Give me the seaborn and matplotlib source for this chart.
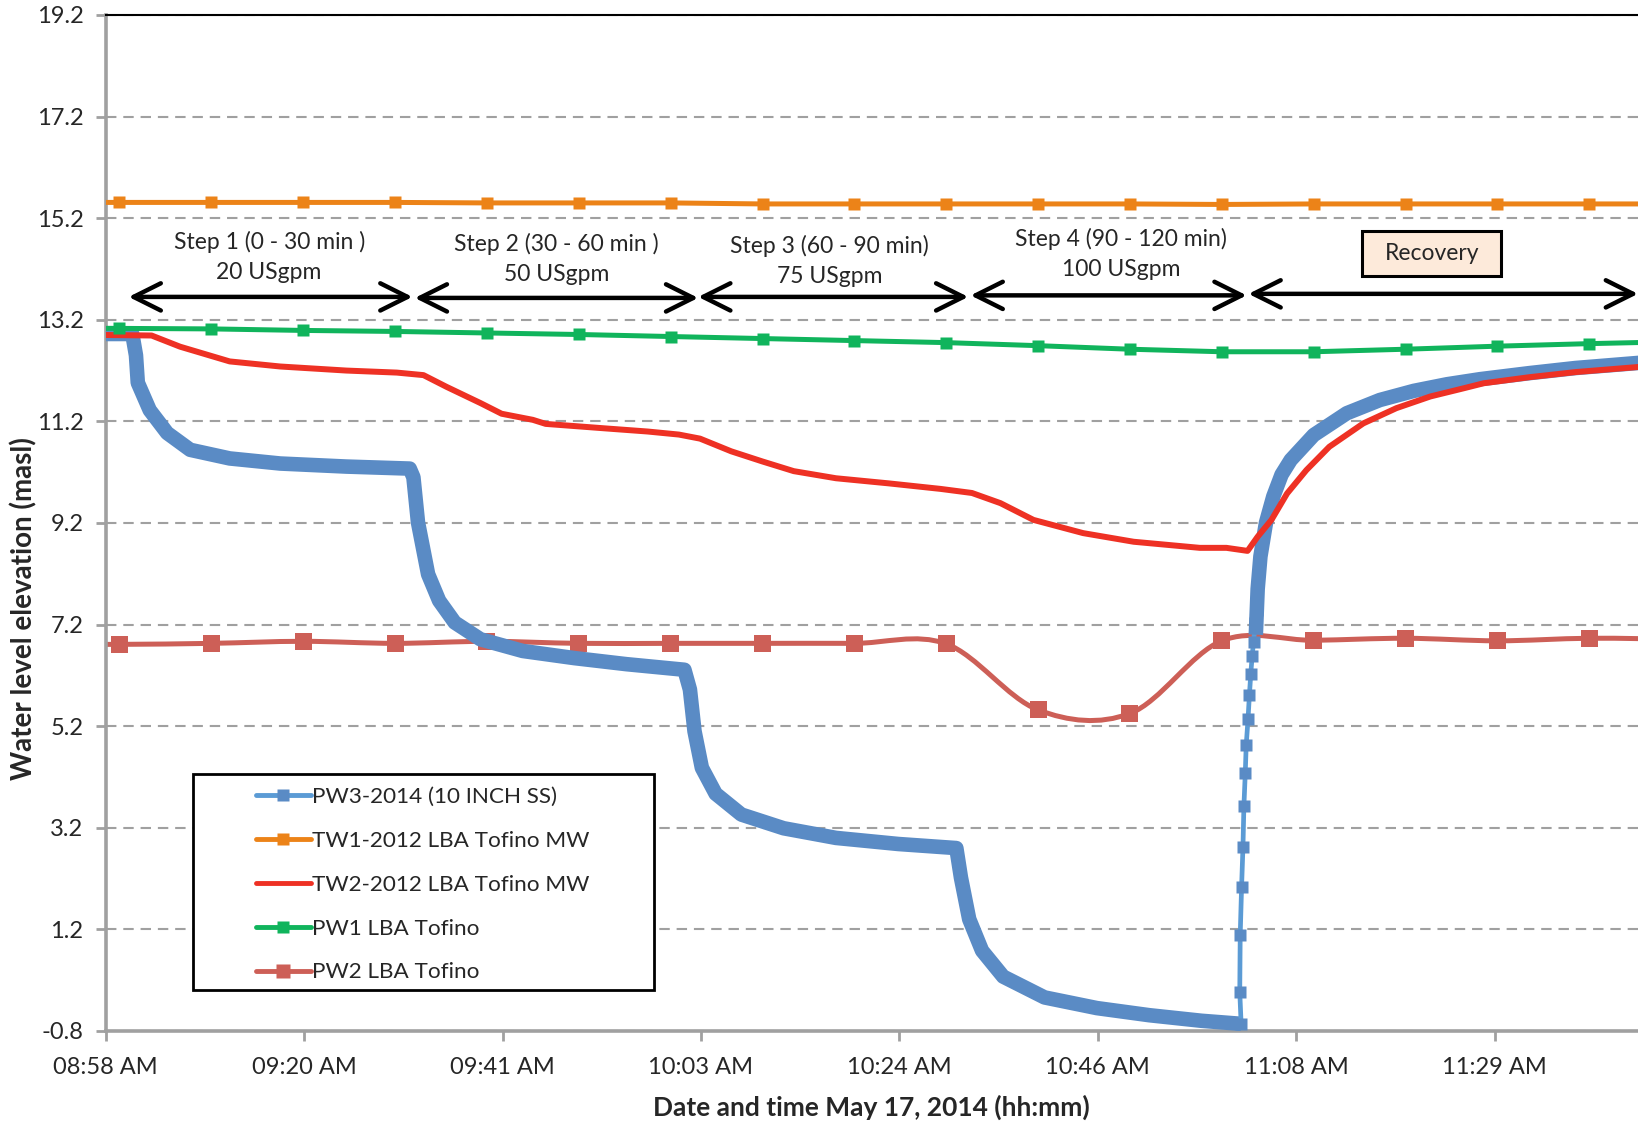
import numpy as np
import pandas as pd
import matplotlib
matplotlib.use("Agg")
import matplotlib.pyplot as plt
from matplotlib.lines import Line2D
from matplotlib.path import Path
from matplotlib.patches import PathPatch, Rectangle
import seaborn as sns

sns.set_style("white")
plt.rcParams['font.family'] = ['Lato', 'DejaVu Sans']

# x axis: minutes after 08:58
tick_minutes = [0, 21.6, 43.2, 64.8, 86.4, 108.0, 129.6, 151.2]
tick_labels = ["08:58 AM", "09:20 AM", "09:41 AM", "10:03 AM",
               "10:24 AM", "10:46 AM", "11:08 AM", "11:29 AM"]
y_ticks = [-0.8, 1.2, 3.2, 5.2, 7.2, 9.2, 11.2, 13.2, 15.2, 17.2, 19.2]

# manual readings (every 10 min)
manual_t = [-8.5, 1.5, 11.5, 21.5, 31.5, 41.5, 51.5, 61.5, 71.5, 81.5,
            91.5, 101.5, 111.5, 121.5, 131.5, 141.5, 151.5, 161.5, 171.5]
tw1_h = [15.51, 15.51, 15.51, 15.51, 15.51, 15.50, 15.50, 15.50, 15.48, 15.48,
         15.48, 15.48, 15.48, 15.47, 15.48, 15.48, 15.48, 15.48, 15.48]
pw1_h = [13.04, 13.03, 13.02, 12.99, 12.97, 12.94, 12.91, 12.87, 12.83, 12.79,
         12.75, 12.69, 12.62, 12.57, 12.57, 12.62, 12.68, 12.73, 12.77]
pw2_h = [6.81, 6.81, 6.83, 6.87, 6.83, 6.87, 6.83, 6.83, 6.83, 6.83,
         6.82, 5.52, 5.45, 6.88, 6.89, 6.93, 6.88, 6.93, 6.91]

# TW2 logger
tw2_t = [0, 5.0, 8.1, 13.5, 19.0, 26.2, 31.7, 34.6, 37.1, 40.8, 43.1, 46.5, 47.9,
         54.5, 59.0, 62.4, 64.7, 68.1, 71.5, 74.9, 79.5, 85.2, 90.9, 94.3, 97.4,
         101.0, 106.4, 111.9, 119.1, 122.0, 124.3, 125.4, 126.9, 128.6, 130.7,
         133.2, 136.9, 140.5, 144.2, 147.8, 150.0, 155.0, 160.0, 166.8, 170.0]
tw2_h = [12.90, 12.89, 12.67, 12.38, 12.28, 12.20, 12.16, 12.11, 11.88, 11.56, 11.35, 11.23, 11.15,
         11.06, 11.00, 10.94, 10.86, 10.61, 10.41, 10.22, 10.08, 9.98, 9.87, 9.79, 9.59,
         9.26, 9.00, 8.83, 8.71, 8.71, 8.65, 8.93, 9.26, 9.78, 10.24,
         10.70, 11.16, 11.46, 11.69, 11.85, 11.95, 12.07, 12.17, 12.27, 12.30]

# PW3 logger: drawdown
pw3_t = [0, 2.9, 3.3, 3.5, 4.8, 6.7, 9.2, 13.5, 19.0, 26.2, 33.1, 33.5, 34.0, 35.1,
         36.3, 38.0, 40.8, 45.4, 51.0, 56.7, 63.0, 63.6, 64.1, 64.9, 66.4, 69.2,
         73.8, 79.5, 86.3, 92.6, 93.1, 94.0, 95.4, 97.7, 102.2, 107.9, 113.6,
         119.3, 123.6]
pw3_h = [12.92, 12.92, 12.50, 11.96, 11.42, 10.97, 10.64, 10.47, 10.37, 10.31, 10.27, 10.10, 9.21, 8.19,
         7.67, 7.24, 6.91, 6.68, 6.54, 6.42, 6.31, 5.92, 5.10, 4.38, 3.87, 3.46,
         3.19, 3.00, 2.88, 2.80, 2.22, 1.40, 0.78, 0.27, -0.14, -0.35, -0.49,
         -0.60, -0.66]
# PW3 fast rise
rise_t = [123.6, 123.45, 123.5, 123.65, 123.8, 123.9, 124.05, 124.15, 124.35,
          124.5, 124.65, 124.8, 124.95, 125.15, 125.35]
rise_h = [-0.66, -0.03, 1.09, 2.04, 2.83, 3.62, 4.27, 4.82, 5.34,
          5.81, 6.23, 6.58, 6.86, 7.23, 7.49]
# PW3 recovery
rec_t = [125.2, 125.4, 125.7, 126.3, 127.1, 128.0, 129.0, 131.5, 135.1, 138.7,
         142.4, 146.0, 149.6, 155.0, 160.0, 166.8, 170.0]
rec_h = [7.00, 7.90, 8.54, 9.20, 9.72, 10.15, 10.44, 10.93, 11.36, 11.62,
         11.80, 11.93, 12.03, 12.15, 12.25, 12.35, 12.38]

step_labels = ["Step 1 (0 - 30 min )\n20 USgpm", "Step 2 (30 - 60 min )\n50 USgpm",
               "Step 3 (60 - 90 min)\n75 USgpm", "Step 4 (90 - 120 min)\n100 USgpm"]
step_text_x = [17.8, 49.1, 78.8, 110.5]
step_text_y = [14.44, 14.40, 14.36, 14.50]
arrow_start = [2.5, 33.65, 64.5, 94.15, 124.4]
arrow_end = [33.4, 64.5, 93.9, 124.2, 166.8]
arrow_y = [13.65, 13.63, 13.65, 13.68, 13.71]

c_pw3_line = "#5B9BD5"
c_pw3 = "#5A8BC5"
c_tw1 = "#EC8318"
c_tw2 = "#EE3124"
c_pw1 = "#10B45C"
c_pw2 = "#CD5F57"

manual = pd.DataFrame({"t": manual_t, "TW1": tw1_h, "PW1": pw1_h, "PW2": pw2_h})
tw2 = pd.DataFrame({"t": tw2_t, "h": tw2_h})
pw3 = pd.DataFrame({"t": pw3_t, "h": pw3_h})
rise = pd.DataFrame({"t": rise_t, "h": rise_h})
rec = pd.DataFrame({"t": rec_t, "h": rec_h})

fig = plt.figure(figsize=(16.38, 11.25), dpi=100)
ax = fig.add_axes([0.0645, 0.0836, 1 - 0.0645, 0.9031])

# PW2: smoothed line (Excel-style bezier) + markers
pts = np.column_stack([manual_t, pw2_h])
verts = [pts[0]]
codes = [Path.MOVETO]
for i in range(len(pts) - 1):
    p0 = pts[max(i - 1, 0)]
    p1 = pts[i]
    p2 = pts[i + 1]
    p3 = pts[min(i + 2, len(pts) - 1)]
    verts += [p1 + (p2 - p0) / 6, p2 - (p3 - p1) / 6, p2]
    codes += [Path.CURVE4] * 3
ax.add_patch(PathPatch(Path(verts, codes), fill=False, edgecolor=c_pw2, lw=3.6, zorder=2))
sns.scatterplot(data=manual, x="t", y="PW2", marker="s", s=150, color=c_pw2,
                edgecolor="none", ax=ax, zorder=2.5, legend=False)

# PW3
sns.lineplot(data=pw3, x="t", y="h", color=c_pw3, lw=10.5, ax=ax, zorder=3,
             solid_capstyle="butt", sort=False)
sns.lineplot(data=rise, x="t", y="h", color=c_pw3_line, lw=3.4, ax=ax, zorder=3,
             marker="s", markersize=8.5, markerfacecolor=c_pw3, markeredgecolor="none", sort=False)
sns.lineplot(data=rec, x="t", y="h", color=c_pw3, lw=10.5, ax=ax, zorder=3,
             solid_capstyle="butt", sort=False)

# TW1
sns.lineplot(data=manual, x="t", y="TW1", color=c_tw1, lw=3.6, marker="s",
             markersize=9, markeredgecolor="none", ax=ax, zorder=4)
# TW2
sns.lineplot(data=tw2, x="t", y="h", color=c_tw2, lw=4.3, ax=ax, zorder=5)
# PW1
sns.lineplot(data=manual, x="t", y="PW1", color=c_pw1, lw=3.6, marker="s",
             markersize=8.5, markeredgecolor="none", ax=ax, zorder=6)

# step arrows & labels
for x0, x1, y in zip(arrow_start, arrow_end, arrow_y):
    ax.annotate("", xy=(x1, y), xytext=(x0, y),
                arrowprops=dict(arrowstyle="<->,head_length=0.7,head_width=0.35",
                                lw=3.2, color="black", shrinkA=0, shrinkB=0,
                                mutation_scale=28), zorder=7)
for lab, x, y in zip(step_labels, step_text_x, step_text_y):
    ax.text(x, y, lab, ha="center", va="center", fontsize=16.5, linespacing=1.5, zorder=7)


def wide_box(x0, y0, width, height, mutation_size):
    px, py = 0.98 * mutation_size, 0.52 * mutation_size
    x0, y0 = x0 - px, y0 - py
    x1, y1 = x0 + width + 2 * px, y0 + height + 2 * py
    return Path([(x0, y0), (x1, y0), (x1, y1), (x0, y1), (x0, y0)],
                [Path.MOVETO, Path.LINETO, Path.LINETO, Path.LINETO, Path.CLOSEPOLY])


ax.text(144.35, 14.50, "Recovery", ha="center", va="center", fontsize=16.5, zorder=7,
        bbox=dict(boxstyle=wide_box, facecolor="#FDEADA", edgecolor="black", lw=2.2))

# axes styling
ax.set_xlim(0, 166.8)
ax.set_ylim(-0.8, 19.2)
ax.set_yticks(y_ticks)
ax.set_yticklabels([f"{v:.1f}" for v in y_ticks])
ax.set_xticks(tick_minutes)
ax.set_xticklabels(tick_labels)
ax.yaxis.grid(True, linestyle=(0, (5, 3.3)), color="#A0A0A0", lw=1.5)
ax.xaxis.grid(False)
ax.set_axisbelow(True)
ax.spines["right"].set_visible(False)
ax.spines["top"].set_color("black")
ax.spines["top"].set_linewidth(1.5)
for s in ["left", "bottom"]:
    ax.spines[s].set_color("#A0A0A0")
    ax.spines[s].set_linewidth(2.6)
ax.tick_params(axis="both", direction="out", color="#A0A0A0", width=2, length=7,
               labelsize=17, pad=9, left=True, bottom=True)
ax.tick_params(axis="x", pad=12)
ax.set_xlabel("Date and time May 17, 2014 (hh:mm)", fontsize=19, fontweight="bold", labelpad=12)
ax.set_ylabel("Water level elevation (masl)", fontsize=20, fontweight="bold")
ax.yaxis.set_label_coords(-0.0445, 0.416)

# legend (frame drawn separately to get its wide side margins)
ax.add_patch(Rectangle((0.0572, 0.040), 0.3006, 0.213, transform=ax.transAxes,
                       facecolor="white", edgecolor="black", lw=2, zorder=9))
handles = [
    Line2D([], [], color=c_pw3_line, lw=3.5, marker="s", markersize=9,
           markerfacecolor=c_pw3, markeredgecolor="none"),
    Line2D([], [], color=c_tw1, lw=3.5, marker="s", markersize=9, markeredgecolor="none"),
    Line2D([], [], color=c_tw2, lw=3.5),
    Line2D([], [], color=c_pw1, lw=3.5, marker="s", markersize=9, markeredgecolor="none"),
    Line2D([], [], color=c_pw2, lw=3.5, marker="s", markersize=10, markeredgecolor="none"),
]
labels = ["PW3-2014 (10 INCH SS)", "TW1-2012 LBA Tofino MW", "TW2-2012 LBA Tofino MW",
          "PW1 LBA Tofino", "PW2 LBA Tofino"]
leg = ax.legend(handles, labels, loc="center left", bbox_to_anchor=(0.0981, 0.1439),
                fontsize=16.2, frameon=False, handlelength=2.44, handletextpad=0.05,
                labelspacing=1.06, borderpad=0, borderaxespad=0)
leg.set_zorder(10)

plt.savefig("out.png", dpi=100)
